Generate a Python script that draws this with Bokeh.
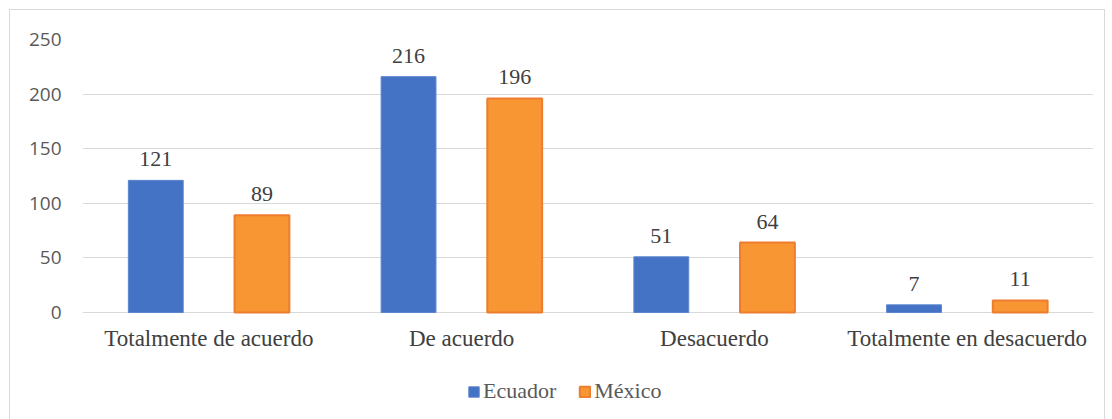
from bokeh.plotting import figure
from bokeh.models import ColumnDataSource, FactorRange, Legend, LegendItem, FixedTicker, Range1d
from bokeh.transform import dodge
from bokeh.core.properties import value
from bokeh.embed import file_html
from bokeh.resources import INLINE

categories = ["Totalmente de acuerdo", "De acuerdo", "Desacuerdo", "Totalmente en desacuerdo"]
ecuador = [121, 216, 51, 7]
mexico = [89, 196, 64, 11]
series_names = ["Ecuador", "México"]
y_ticks = [0, 50, 100, 150, 200, 250]

src = ColumnDataSource(dict(cat=categories, ecu=ecuador, mex=mexico, base=[0] * len(categories),
                            ecu_l=[str(v) for v in ecuador], mex_l=[str(v) for v in mexico]))

p = figure(x_range=FactorRange(*categories, range_padding=0), y_range=Range1d(-98, 250),
           frame_width=1011, frame_height=380, output_backend="svg", toolbar_location=None,
           min_border_left=72, min_border_right=11, min_border_top=29, min_border_bottom=5)
p.margin = (9, 0, 0, 9)
p.styles = {"border": "1px solid #d9d9d9", "box-sizing": "border-box"}
p.outline_line_color = None
p.background_fill_color = "white"

serif = "Liberation Serif"
bw = 0.217
r1 = p.vbar(x=dodge("cat", -0.21, range=p.x_range), top="ecu", width=bw, source=src,
            fill_color="#4472C4", line_color="#5B86D0", line_width=1)
r2 = p.vbar(x=dodge("cat", 0.21, range=p.x_range), top="mex", width=bw, source=src,
            fill_color="#F79633", line_color="#ED7D31", line_width=2)

p.text(x=dodge("cat", -0.21, range=p.x_range), y="ecu", text="ecu_l", source=src,
       text_align="center", text_baseline="bottom", y_offset=-14,
       text_font=value(serif), text_font_size="22px", text_color="#404040")
p.text(x=dodge("cat", 0.21, range=p.x_range), y="mex", text="mex_l", source=src,
       text_align="center", text_baseline="bottom", y_offset=-14,
       text_font=value(serif), text_font_size="22px", text_color="#404040")

# category labels under the baseline
p.text(x="cat", y="base", text="cat", source=src,
       text_align="center", text_baseline="top", y_offset=14,
       text_font=value(serif), text_font_size="23px", text_color="#404040")

p.yaxis.ticker = FixedTicker(ticks=y_ticks)
p.yaxis.axis_line_color = None
p.yaxis.major_tick_line_color = None
p.yaxis.minor_tick_line_color = None
p.yaxis.major_label_text_font = "Open Sans"
p.yaxis.major_label_text_font_size = "19px"
p.yaxis.major_label_text_color = "#595959"
p.yaxis.major_label_standoff = 15

p.xaxis.visible = False

p.xgrid.grid_line_color = None
p.ygrid.grid_line_color = "#d9d9d9"
p.ygrid.grid_line_width = 1

legend = Legend(items=[LegendItem(label=series_names[0], renderers=[r1]),
                       LegendItem(label=series_names[1], renderers=[r2])],
                orientation="horizontal", location=(385, 15),
                label_text_font=serif, label_text_font_size="22px", label_text_color="#595959",
                glyph_width=13, glyph_height=13, spacing=22, label_standoff=3,
                border_line_color=None, background_fill_alpha=0, padding=4, margin=0)
p.add_layout(legend, "center")

open("out.html", "w").write(file_html(p, INLINE))
